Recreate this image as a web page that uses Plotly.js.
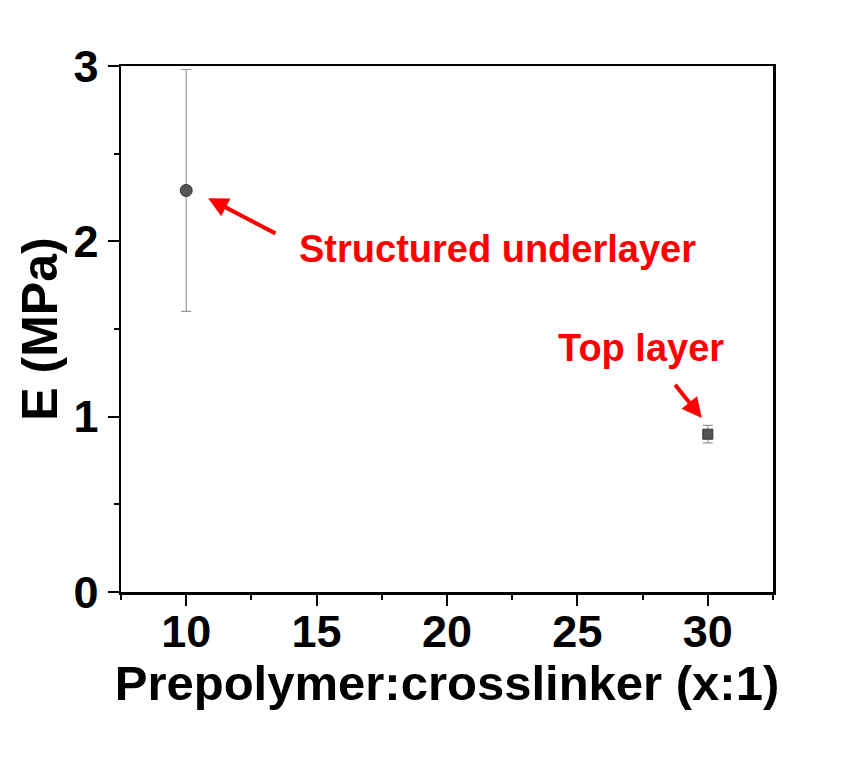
<!DOCTYPE html>
<html>
<head>
<meta charset="utf-8">
<script src="https://cdn.plot.ly/plotly-3.0.1.min.js"></script>
<style>html,body{margin:0;padding:0;background:#fff;}#chart{width:868px;height:760px;}</style>
</head>
<body>
<div id="chart"></div>
<script>
// Data
const underlayerX = [10];
const underlayerE = [2.29];
const underlayerErr = [0.69];
const topLayerX = [30];
const topLayerE = [0.90];
const topLayerErr = [0.05];
const xTicks = [10, 15, 20, 25, 30];
const yTicks = [0, 1, 2, 3];

const fontMain = "Liberation Sans, Arial, sans-serif";

const traces = [
  {
    x: underlayerX, y: underlayerE, type: 'scatter', mode: 'markers',
    marker: {symbol: 'circle', size: 12, color: '#555555', line: {color: '#333333', width: 1}},
    error_y: {type: 'data', array: underlayerErr, visible: true, color: '#999999', thickness: 1.2, width: 5},
    showlegend: false
  },
  {
    x: topLayerX, y: topLayerE, type: 'scatter', mode: 'markers',
    marker: {symbol: 'square', size: 10, color: '#555555', line: {color: '#333333', width: 1}},
    error_y: {type: 'data', array: topLayerErr, visible: true, color: '#999999', thickness: 1.2, width: 5},
    showlegend: false
  }
];

const axisCommon = {
  showline: true, linecolor: '#000', linewidth: 2.5, mirror: true,
  ticks: 'outside', ticklen: 11, tickwidth: 2, tickcolor: '#000',
  showgrid: false, zeroline: false,
  tickfont: {family: fontMain, size: 45, color: '#000', weight: 'bold'}
};

const layout = {
  width: 868, height: 760,
  margin: {l: 121, r: 95, t: 66, b: 168},
  paper_bgcolor: '#fff', plot_bgcolor: '#fff',
  font: {family: fontMain, color: '#000'},
  xaxis: Object.assign({}, axisCommon, {
    range: [7.5, 32.5], tickvals: xTicks, ticktext: xTicks.map(String),
    ticklabelstandoff: -13,
    minor: {dtick: 2.5, tick0: 0, ticks: 'outside', ticklen: 5, tickwidth: 2, tickcolor: '#000'},
    title: {text: 'Prepolymer:crosslinker (x:1)', font: {family: fontMain, size: 49, color: '#000', weight: 'bold'}, standoff: 8}
  }),
  yaxis: Object.assign({}, axisCommon, {
    range: [0, 3], tickvals: yTicks, ticktext: yTicks.map(String),
    minor: {dtick: 0.5, tick0: 0, ticks: 'outside', ticklen: 5, tickwidth: 2, tickcolor: '#000'},
    title: {text: 'E (MPa)', font: {family: fontMain, size: 50, color: '#000', weight: 'bold'}, standoff: 0}
  }),
  annotations: [
    {x: 10.84, y: 2.246, ax: 13.48, ay: 2.041, xref: 'x', yref: 'y', axref: 'x', ayref: 'y',
     showarrow: true, arrowhead: 2, arrowsize: 1, arrowwidth: 4, arrowcolor: '#ff0000', text: ''},
    {x: 29.77, y: 0.992, ax: 28.70, ay: 1.19, xref: 'x', yref: 'y', axref: 'x', ayref: 'y',
     showarrow: true, arrowhead: 2, arrowsize: 1, arrowwidth: 4, arrowcolor: '#ff0000', text: ''},
    {x: 21.95, y: 1.955, xref: 'x', yref: 'y', showarrow: false, text: 'Structured underlayer',
     font: {family: fontMain, size: 38, color: '#ff0000', weight: 'bold'}, xanchor: 'center', yanchor: 'middle'},
    {x: 27.43, y: 1.39, xref: 'x', yref: 'y', showarrow: false, text: 'Top layer',
     font: {family: fontMain, size: 38, color: '#ff0000', weight: 'bold'}, xanchor: 'center', yanchor: 'middle'}
  ]
};

Plotly.newPlot('chart', traces, layout, {displayModeBar: false, staticPlot: true});
</script>
</body>
</html>
